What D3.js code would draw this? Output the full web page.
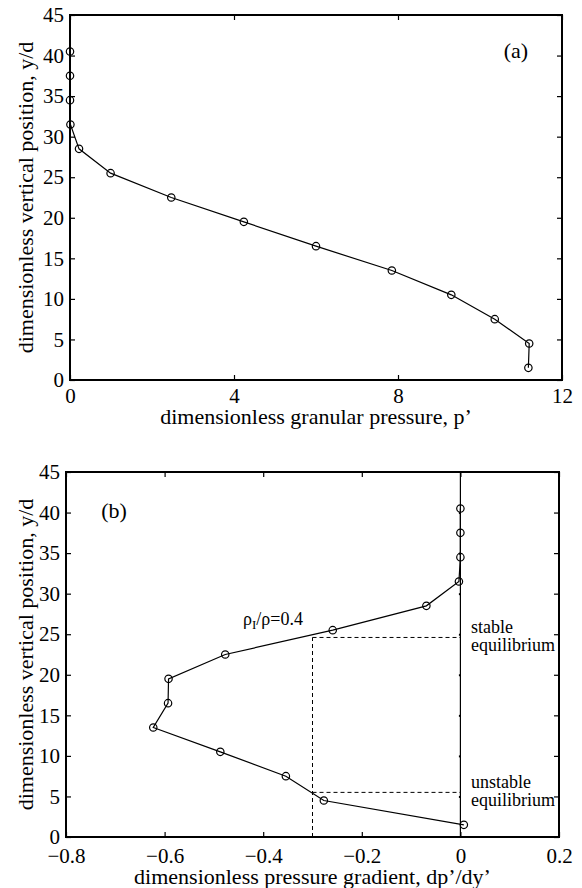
<!DOCTYPE html>
<html>
<head>
<meta charset="utf-8">
<script src="https://cdn.jsdelivr.net/npm/d3@7"></script>
<style>
  html, body { margin: 0; padding: 0; background: #fff; }
  svg { display: block; }
  svg text { font-family: "Liberation Serif", "DejaVu Serif", serif !important; fill: #000; }
</style>
</head>
<body>
<svg id="chart" width="582" height="888" font-family="Liberation Serif, DejaVu Serif, serif"></svg>
<script>
// ---------- data ----------
const yPositions = [1.5, 4.5, 7.5, 10.5, 13.5, 16.5, 19.5, 22.5, 25.5, 28.5, 31.5, 34.5, 37.5, 40.5];
const pressure   = [11.18, 11.2, 10.36, 9.3, 7.85, 6.0, 4.24, 2.47, 0.99, 0.22, 0.01, 0.0, 0.0, 0.0];
const gradient   = [0.007, -0.277, -0.354, -0.487, -0.623, -0.593, -0.592, -0.477, -0.259, -0.069, -0.003, 0.0, 0.0, 0.0];

const xTicksA = [0, 4, 8, 12];
const xTicksB = [-0.8, -0.6, -0.4, -0.2, 0, 0.2];
const yTicks  = [0, 5, 10, 15, 20, 25, 30, 35, 40, 45];

const dashX = -0.3;          // vertical dashed line position
const stableY = 24.6;        // stable equilibrium height
const unstableY = 5.5;       // unstable equilibrium height

const labelA = "(a)";
const labelB = "(b)";
const yLabel = "dimensionless vertical position, y/d";
const xLabelA = "dimensionless granular pressure, p\u2019";
const xLabelB = "dimensionless pressure gradient, dp\u2019/dy\u2019";

// ---------- drawing ----------
const FONT = '"Liberation Serif", "DejaVu Serif", serif';
const TICK = 21, LAB = 22;
const svg = d3.select("#chart");
const tickFmt = d => d === 0 ? "0" : d3.format(".1f")(d).replace("-", "\u2212");

function frame(g, x, y, xTicks, xFmt, xPad) {
  const [x0, x1] = x.range();
  const [y0, y1] = y.range();
  const ax = g.append("g").attr("transform", `translate(0,${y0})`)
    .call(d3.axisBottom(x).tickValues(xTicks).tickFormat(xFmt).tickSizeInner(-5).tickSizeOuter(0).tickPadding(xPad));
  const ay = g.append("g").attr("transform", `translate(${x0},0)`)
    .call(d3.axisLeft(y).tickValues(yTicks).tickFormat(d3.format("d")).tickSizeInner(-5).tickSizeOuter(0).tickPadding(6));
  const at = g.append("g").attr("transform", `translate(0,${y1})`)
    .call(d3.axisTop(x).tickValues(xTicks).tickFormat("").tickSizeInner(-5).tickSizeOuter(0));
  const ar = g.append("g").attr("transform", `translate(${x1},0)`)
    .call(d3.axisRight(y).tickValues(yTicks).tickFormat("").tickSizeInner(-5).tickSizeOuter(0));
  [ax, ay, at, ar].forEach(a => {
    a.attr("font-family", FONT).attr("font-size", TICK);
    a.select(".domain").remove();
    a.selectAll(".tick line").attr("stroke", "#000").attr("stroke-width", 1.2);
    a.selectAll("text").attr("font-family", FONT).attr("font-size", TICK).attr("fill", "#000");
  });
  g.append("rect").attr("x", x0).attr("y", y1).attr("width", x1 - x0).attr("height", y0 - y1)
    .attr("fill", "none").attr("stroke", "#000").attr("stroke-width", 2);
}

function series(g, x, y, xs) {
  const pts = yPositions.map((v, i) => [xs[i], v]);
  g.append("path").datum(pts)
    .attr("d", d3.line().x(d => x(d[0])).y(d => y(d[1])))
    .attr("fill", "none").attr("stroke", "#000").attr("stroke-width", 1.2);
  g.selectAll("circle.m").data(pts).join("circle").attr("class", "m")
    .attr("cx", d => x(d[0])).attr("cy", d => y(d[1])).attr("r", 3.7)
    .attr("fill", "none").attr("stroke", "#000").attr("stroke-width", 1.2);
}

function txt(g, x, y, s, size, anchor) {
  return g.append("text").attr("x", x).attr("y", y).attr("text-anchor", anchor || "start")
    .attr("font-family", FONT).attr("font-size", size).text(s);
}

// ----- panel (a) -----
const xA = d3.scaleLinear().domain([0, 12]).range([70, 562]);
const yA = d3.scaleLinear().domain([0, 45]).range([380, 15]);
const gA = svg.append("g");
frame(gA, xA, yA, xTicksA, d3.format("d"), 8);
series(gA, xA, yA, pressure);
txt(gA, 516, 58, labelA, LAB, "middle");
txt(gA, (70 + 562) / 2, 424, xLabelA, LAB, "middle");
gA.append("text").attr("transform", `translate(33,${(15 + 380) / 2}) rotate(-90)`)
  .attr("text-anchor", "middle").attr("font-family", FONT).attr("font-size", LAB).text(yLabel);

// ----- panel (b) -----
const xB = d3.scaleLinear().domain([-0.8, 0.2]).range([66, 559]);
const yB = d3.scaleLinear().domain([0, 45]).range([837, 472]);
const gB = svg.append("g");
frame(gB, xB, yB, xTicksB, tickFmt, 11);

gB.append("line").attr("x1", xB(0)).attr("x2", xB(0)).attr("y1", yB(0)).attr("y2", yB(45))
  .attr("stroke", "#000").attr("stroke-width", 1.2);
gB.append("g").attr("transform", `translate(${xB(0)},0)`)
  .call(d3.axisLeft(yB).tickValues(yTicks.slice(1, -1)).tickFormat("").tickSizeInner(1.5).tickSizeOuter(0))
  .call(a => { a.select(".domain").remove(); a.selectAll(".tick line").attr("stroke", "#000").attr("stroke-width", 2); });

const dash = "4,3";
gB.append("line").attr("x1", xB(dashX)).attr("x2", xB(dashX)).attr("y1", yB(0)).attr("y2", yB(stableY))
  .attr("stroke", "#000").attr("stroke-width", 1).attr("stroke-dasharray", dash);
gB.append("line").attr("x1", xB(dashX)).attr("x2", xB(0)).attr("y1", yB(stableY)).attr("y2", yB(stableY))
  .attr("stroke", "#000").attr("stroke-width", 1).attr("stroke-dasharray", dash);
gB.append("line").attr("x1", xB(dashX)).attr("x2", xB(0)).attr("y1", yB(unstableY)).attr("y2", yB(unstableY))
  .attr("stroke", "#000").attr("stroke-width", 1).attr("stroke-dasharray", dash);

series(gB, xB, yB, gradient);

txt(gB, 114, 518, labelB, LAB, "middle");

const rho = gB.append("text").attr("x", 243).attr("y", 625).attr("font-family", FONT).attr("font-size", 18);
rho.append("tspan").text("\u03C1");
rho.append("tspan").attr("dy", 4).attr("font-size", 13).text("I");
rho.append("tspan").attr("dy", -4).text("/\u03C1=0.4");

txt(gB, 471, 633, "stable", 18);
txt(gB, 471, 651, "equilibrium", 18);
txt(gB, 471, 788, "unstable", 18);
txt(gB, 471, 806, "equilibrium", 18);

txt(gB, (66 + 559) / 2, 884, xLabelB, LAB, "middle");
gB.append("text").attr("transform", `translate(33,${(472 + 837) / 2}) rotate(-90)`)
  .attr("text-anchor", "middle").attr("font-family", FONT).attr("font-size", LAB).text(yLabel);
</script>
</body>
</html>
